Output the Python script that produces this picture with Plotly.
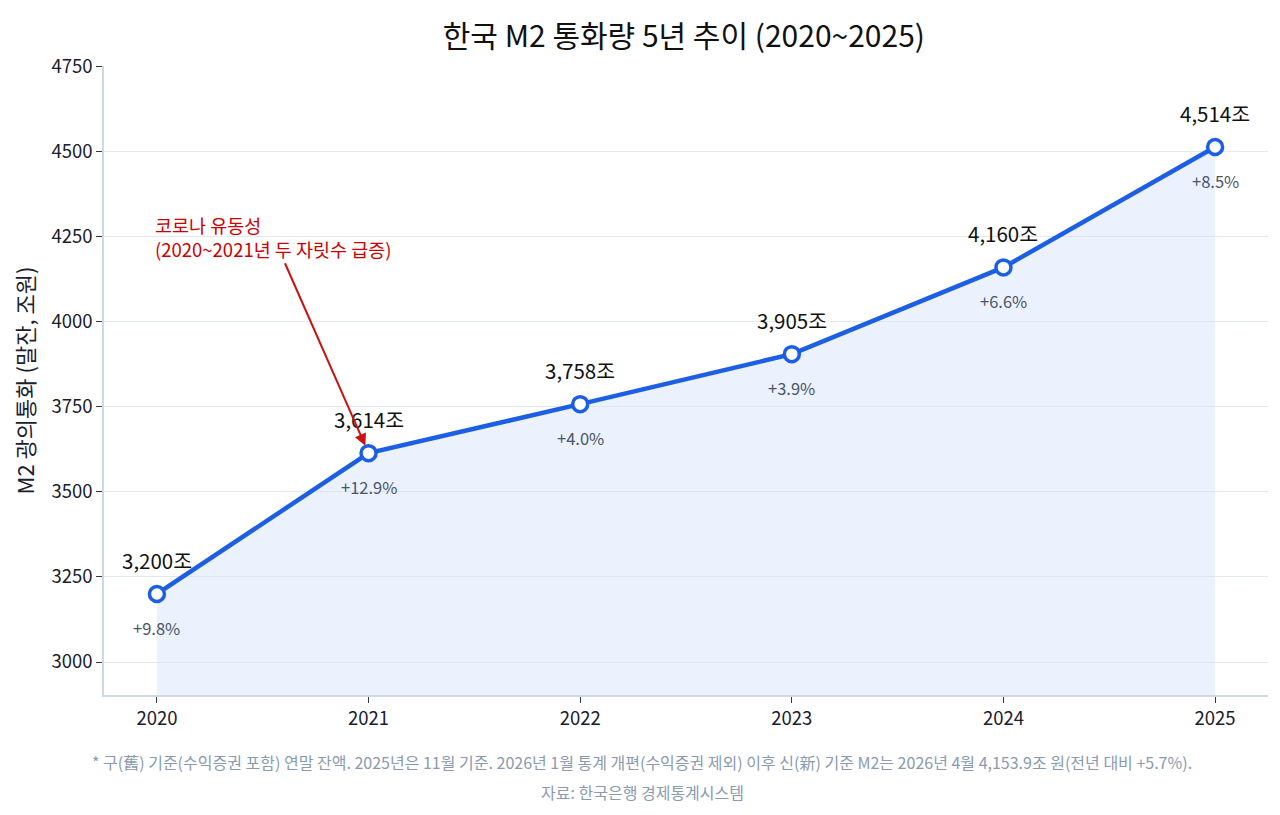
import plotly.graph_objects as go

years = [2020, 2021, 2022, 2023, 2024, 2025]
m2 = [3200, 3614, 3758, 3905, 4160, 4514]
value_labels = ['3,200조', '3,614조', '3,758조', '3,905조', '4,160조', '4,514조']
growth_labels = ['+9.8%', '+12.9%', '+4.0%', '+3.9%', '+6.6%', '+8.5%']
y_ticks = [3000, 3250, 3500, 3750, 4000, 4250, 4500, 4750]

FONT = 'Noto Sans CJK KR'
BLUE = '#1c5fe5'

fig = go.Figure()

fig.add_trace(go.Scatter(
    x=years, y=m2, mode='lines+markers',
    fill='tozeroy', fillcolor='rgba(210,225,250,0.45)',
    line=dict(color=BLUE, width=4.5),
    marker=dict(size=15, color='white', line=dict(color=BLUE, width=3.5)),
    hoverinfo='skip', showlegend=False,
))

## labels above and below each point
for x, y, v, g in zip(years, m2, value_labels, growth_labels):
    fig.add_annotation(x=x, y=y, text=v, showarrow=False, yshift=34,
                       font=dict(family=FONT, size=20.5, color='#111111'))
    fig.add_annotation(x=x, y=y, text=g, showarrow=False, yshift=-34,
                       font=dict(family=FONT, size=16.5, color='#4a5568'))

fig.add_annotation(
    x=2021, y=3614, xref='x', yref='y',
    ax=2020.55, ay=4250, axref='x', ayref='y',
    text='코로나 유동성<br>(2020~2021년 두 자릿수 급증)',
    align='left', showarrow=True, arrowhead=2, arrowsize=1.2,
    arrowwidth=2, arrowcolor='#cc1111', standoff=8,
    font=dict(family=FONT, size=18.5, color='#cc0000'),
)

# footnotes centred on the page, not the plot
fig.add_annotation(
    x=0.4626, y=-0.1065, xref='paper', yref='paper', showarrow=False, yanchor='middle',
    text='* 구(舊) 기준(수익증권 포함) 연말 잔액. 2025년은 11월 기준. 2026년 1월 통계 개편(수익증권 제외) 이후 신(新) 기준 M2는 2026년 4월 4,153.9조 원(전년 대비 +5.7%).',
    font=dict(family=FONT, size=16, color='#8a9ab0'),
)
fig.add_annotation(
    x=0.4626, y=-0.154, xref='paper', yref='paper', showarrow=False, yanchor='middle',
    text='자료: 한국은행 경제통계시스템',
    font=dict(family=FONT, size=16, color='#8a9ab0'),
)

fig.update_layout(
    width=1280, height=815,
    margin=dict(l=96, r=20, t=58, b=128),
    paper_bgcolor='white', plot_bgcolor='white',
    font=dict(family=FONT, color='#2d3748'),
    title=dict(text='한국 M2 통화량 5년 추이 (2020~2025)', x=0.528, xanchor='center',
               y=0.965, yanchor='middle',
               font=dict(family=FONT, size=30, color='#111111')),
)
fig.update_xaxes(
    range=[2019.75, 2025.25], tickvals=years, ticktext=[str(y) for y in years],
    showgrid=False, showline=True, linecolor='#cfd8e3', linewidth=1.5,
    ticks='outside', tickcolor='#2d3748', ticklen=6,
    tickfont=dict(family=FONT, size=18.5, color='#1a202c'),
)
fig.update_yaxes(
    range=[2903, 4752], tickvals=y_ticks,
    showgrid=True, gridcolor='#e4e9f1', gridwidth=1,
    showline=True, linecolor='#cfd8e3', linewidth=1.5,
    ticks='outside', tickcolor='#2d3748', ticklen=6,
    tickfont=dict(family=FONT, size=18.5, color='#1a202c'),
    title=dict(text='M2 광의통화 (말잔, 조원)', font=dict(family=FONT, size=22, color='#1a202c'),
               standoff=12),
    zeroline=False,
)

fig.write_html("out.html")
